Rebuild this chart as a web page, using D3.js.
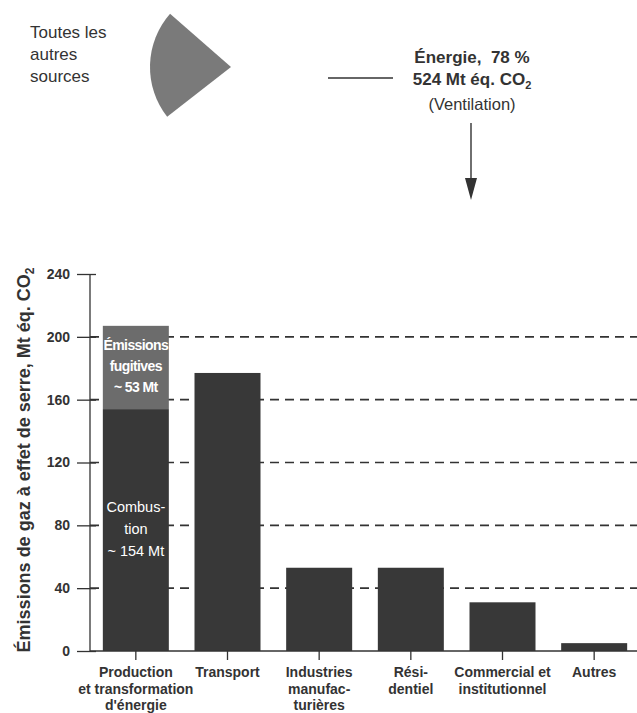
<!DOCTYPE html>
<html><head><meta charset="utf-8">
<script src="https://cdn.jsdelivr.net/npm/d3@7"></script>
<style>body{margin:0;background:#fff}svg{display:block}text{font-family:"Liberation Sans",Arial,sans-serif}</style>
</head><body>
<svg id="c" width="637" height="713"></svg>
<script>
const categories = [["Production","et transformation","d'énergie"],["Transport"],["Industries","manufac-","turières"],["Rési-","dentiel"],["Commercial et","institutionnel"],["Autres"]];
const combustion = [154, 177, 53, 53, 31, 5];
const fugitive = [53, 0, 0, 0, 0, 0];
const yTicks = [0, 40, 80, 120, 160, 200, 240];
const pieShares = [78, 22]; // Énergie, autres sources
const pieLabels = ["Énergie", "Toutes les autres sources"];

const svg = d3.select("#c");
const x = d3.scaleBand().domain(d3.range(categories.length)).range([90, 640]).paddingInner(0.28).paddingOuter(0.14);
const y = d3.scaleLinear().domain([0, 240]).range([651, 274]);

// Pie slice (only the "autres" slice is shown)
const pie = d3.pie().sort(null).startAngle(-48.8*Math.PI/180).endAngle((360-48.8)*Math.PI/180);
const arcs = pie(pieShares);
const arc = d3.arc().innerRadius(0).outerRadius(81);
svg.append("path").attr("transform","translate(231,67)").attr("d", arc(arcs[1])).attr("fill","#7a7a7a");

const tl = svg.append("text").attr("font-size",17).attr("fill","#333");
["Toutes les","autres","sources"].forEach((t,i)=>tl.append("tspan").attr("x",30).attr("y",38+i*22).text(t));

svg.append("line").attr("x1",328).attr("x2",393).attr("y1",78).attr("y2",78).attr("stroke","#333").attr("stroke-width",1.3);
svg.append("text").attr("x",472).attr("y",63).attr("text-anchor","middle").attr("font-size",17).attr("font-weight","bold").attr("fill","#333").text("Énergie,\u00a0 " + pieShares[0] + " %");
const t2 = svg.append("text").attr("x",472).attr("y",85).attr("text-anchor","middle").attr("font-size",17).attr("font-weight","bold").attr("fill","#333");
t2.append("tspan").text("524 Mt éq. CO");
t2.append("tspan").attr("font-size",11).attr("dy",4).text("2");
svg.append("text").attr("x",472).attr("y",110).attr("text-anchor","middle").attr("font-size",16.5).attr("fill","#333").text("(Ventilation)");
svg.append("line").attr("x1",471).attr("x2",471).attr("y1",123).attr("y2",185).attr("stroke","#333").attr("stroke-width",1.4);
svg.append("path").attr("d","M465,178 L477,178 L471,200 Z").attr("fill","#333");

// gridlines
svg.append("g").selectAll("line").data(yTicks.filter(d=>d>0 && d<240)).join("line")
  .attr("x1",90).attr("x2",637).attr("y1",d=>y(d)).attr("y2",d=>y(d))
  .attr("stroke","#333").attr("stroke-width",1.6).attr("stroke-dasharray","9,6");

// bars
const bars = svg.append("g");
bars.selectAll("rect.c").data(combustion).join("rect").attr("class","c")
  .attr("x",(d,i)=>x(i)).attr("width",x.bandwidth())
  .attr("y",d=>y(d)).attr("height",d=>y(0)-y(d)).attr("fill","#383838");
bars.selectAll("rect.f").data(fugitive).join("rect").attr("class","f")
  .attr("x",(d,i)=>x(i)).attr("width",x.bandwidth())
  .attr("y",(d,i)=>y(combustion[i]+d)).attr("height",d=>y(0)-y(d)).attr("fill","#6c6c6c");

const cx = x(0)+x.bandwidth()/2;
const lab1 = svg.append("text").attr("text-anchor","middle").attr("font-size",14).attr("font-weight","bold").attr("letter-spacing",-0.6).attr("fill","#fff");
["Émissions","fugitives","~ "+fugitive[0]+" Mt"].forEach((t,i)=>lab1.append("tspan").attr("x",cx).attr("y",350+i*21).text(t));
const lab2 = svg.append("text").attr("text-anchor","middle").attr("font-size",14.5).attr("fill","#fff");
["Combus-","tion","~ "+combustion[0]+" Mt"].forEach((t,i)=>lab2.append("tspan").attr("x",cx).attr("y",512+i*22).text(t));

// y axis
const ya = svg.append("g").attr("transform","translate(90,0)")
  .call(d3.axisLeft(y).tickValues(yTicks).tickSize(13).tickPadding(7));
ya.select(".domain").attr("stroke","#333").attr("stroke-width",1.3).attr("d","M0,274V651");
ya.selectAll(".tick line").attr("stroke","#333").attr("stroke-width",1.3).attr("x2",-13).attr("x1",6);
ya.selectAll(".tick text").attr("font-size",14).attr("font-weight","bold").attr("fill","#333").attr("font-family","Liberation Sans, Arial, sans-serif");

// x axis
const xa = svg.append("g").attr("transform","translate(0,651)")
  .call(d3.axisBottom(x).tickSize(9).tickFormat(""));
xa.select(".domain").attr("stroke","#333").attr("stroke-width",1.3).attr("d","M90,0H637");
xa.selectAll(".tick line").attr("stroke","#333").attr("stroke-width",1.3);
xa.selectAll(".tick").each(function(d){
  const t = d3.select(this).append("text").attr("text-anchor","middle").attr("font-size",14).attr("font-weight","bold").attr("fill","#333").attr("font-family","Liberation Sans, Arial, sans-serif");
  categories[d].forEach((s,i)=>t.append("tspan").attr("x",0).attr("y",26+i*16.5).text(s));
});

// y title
const yt = svg.append("text").attr("transform","translate(30,460) rotate(-90)").attr("text-anchor","middle").attr("font-size",18).attr("font-weight","bold").attr("fill","#333");
yt.append("tspan").text("Émissions de gaz à effet de serre, Mt éq. CO");
yt.append("tspan").attr("font-size",12).attr("dy",4).text("2");
</script>
</body></html>
